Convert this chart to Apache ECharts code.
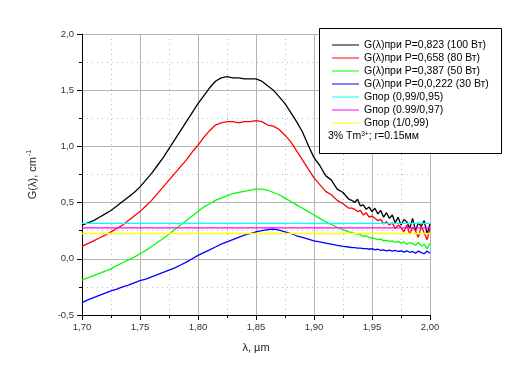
<!DOCTYPE html>
<html><head><meta charset="utf-8">
<script src="https://cdn.jsdelivr.net/npm/echarts@6/dist/echarts.min.js"></script>
<style>html,body{margin:0;padding:0;background:#fff}#c{width:527px;height:383px}</style>
</head><body><div id="c"></div>
<script>
const lambda = [1.700,1.705,1.710,1.715,1.720,1.725,1.730,1.735,1.740,1.745,1.750,1.755,1.760,1.765,1.770,1.775,1.780,1.785,1.790,1.795,1.800,1.805,1.810,1.815,1.820,1.825,1.830,1.835,1.840,1.845,1.850,1.855,1.860,1.865,1.870,1.875,1.880,1.885,1.890,1.895,1.900,1.905,1.910,1.915,1.920,1.925,1.930,
1.9325,1.935,1.9375,1.940,1.9425,1.945,1.9475,1.950,1.9525,1.955,1.9575,1.960,1.9625,1.965,1.9675,1.970,1.9725,1.975,1.9775,1.980,1.9825,1.985,1.9875,1.990,1.9925,1.995,1.9975,2.000];
const g100 = [0.30,0.32,0.34,0.37,0.40,0.43,0.47,0.51,0.55,0.59,0.64,0.70,0.76,0.83,0.90,0.98,1.06,1.14,1.22,1.30,1.38,1.45,1.52,1.58,1.61,1.62,1.61,1.61,1.60,1.60,1.60,1.58,1.54,1.50,1.44,1.38,1.30,1.22,1.13,1.01,0.90,0.83,0.74,0.70,0.62,0.59,0.53,
0.52,0.50,0.53,0.47,0.48,0.44,0.46,0.42,0.45,0.40,0.43,0.37,0.41,0.36,0.39,0.32,0.37,0.30,0.35,0.33,0.27,0.36,0.25,0.32,0.29,0.34,0.22,0.31];
const g80 = [0.11,0.135,0.16,0.185,0.21,0.24,0.27,0.30,0.34,0.38,0.42,0.47,0.52,0.58,0.64,0.70,0.76,0.82,0.88,0.95,1.01,1.08,1.14,1.19,1.21,1.22,1.22,1.21,1.22,1.22,1.23,1.22,1.19,1.18,1.15,1.10,1.04,0.96,0.88,0.80,0.72,0.66,0.60,0.57,0.52,0.49,0.45,
0.45,0.44,0.42,0.43,0.39,0.41,0.37,0.38,0.36,0.34,0.35,0.31,0.33,0.30,0.32,0.27,0.30,0.28,0.24,0.30,0.22,0.28,0.25,0.19,0.29,0.23,0.17,0.27];
const g50 = [-0.19,-0.17,-0.15,-0.13,-0.11,-0.09,-0.06,-0.035,-0.01,0.015,0.045,0.075,0.11,0.145,0.18,0.22,0.26,0.30,0.34,0.38,0.42,0.46,0.49,0.52,0.54,0.56,0.58,0.59,0.60,0.61,0.62,0.62,0.61,0.59,0.57,0.54,0.51,0.48,0.45,0.42,0.39,0.36,0.33,0.305,0.28,0.26,0.24,
0.235,0.225,0.22,0.215,0.20,0.205,0.19,0.185,0.18,0.17,0.175,0.16,0.165,0.155,0.16,0.145,0.155,0.14,0.15,0.13,0.145,0.135,0.12,0.145,0.115,0.13,0.09,0.14];
const g30 = [-0.39,-0.365,-0.345,-0.325,-0.305,-0.285,-0.27,-0.25,-0.235,-0.215,-0.195,-0.18,-0.16,-0.14,-0.12,-0.10,-0.08,-0.055,-0.03,0.00,0.03,0.055,0.08,0.105,0.13,0.15,0.17,0.19,0.21,0.225,0.24,0.25,0.26,0.265,0.255,0.24,0.225,0.205,0.19,0.175,0.16,0.15,0.14,0.13,0.12,0.11,0.105,
0.10,0.10,0.095,0.095,0.09,0.09,0.085,0.09,0.08,0.085,0.075,0.08,0.07,0.078,0.068,0.075,0.065,0.07,0.06,0.07,0.058,0.065,0.05,0.068,0.055,0.045,0.07,0.05];
const thresholds = [0.315, 0.275, 0.225];
const seriesNames = ['G(λ)при P=0,823 (100 Вт)','G(λ)при P=0,658 (80 Вт)','G(λ)при P=0,387 (50 Вт)','G(λ)при P=0,0,222 (30 Вт)','Gпор (0,99/0,95)','Gпор (0.99/0,97)','Gпор (1/0,99)'];
const colors = ['#000000','#ff0000','#00ff00','#0000ff','#00ffff','#ff00ff','#ffff00'];
const xTicks = {min:1.70, max:2.00, step:0.05};
const yTicks = {min:-0.5, max:2.0, step:0.5};

const curves = [g100, g80, g50, g30];
const series = [];
curves.forEach((arr,i)=>{
  series.push({name:seriesNames[i], type:'line', showSymbol:false, symbol:'none', animation:false,
    lineStyle:{width:1.3,color:colors[i]}, itemStyle:{color:colors[i]},
    data: lambda.map((x,k)=>[x,arr[k]])});
});
thresholds.forEach((v,j)=>{
  const i = 4+j;
  series.push({name:seriesNames[i], type:'line', showSymbol:false, symbol:'none', animation:false,
    lineStyle:{width:1.3,color:colors[i]}, itemStyle:{color:colors[i]},
    data: [[lambda[0],v],[lambda[lambda.length-1],v]]});
});

const font = 'Liberation Sans, Arial, sans-serif';
const chart = echarts.init(document.getElementById('c'), null, {renderer:'canvas'});
chart.setOption({
  animation:false,
  backgroundColor:'#fff',
  color: colors,
  grid:{left:82, right:97, top:34, bottom:68, containLabel:false},
  xAxis:{type:'value', min:xTicks.min, max:xTicks.max, interval:xTicks.step,
    name:'λ, µm', nameLocation:'middle', nameGap:27,
    nameTextStyle:{fontFamily:font, fontSize:11, color:'#222'},
    axisLine:{onZero:false, lineStyle:{color:'#000', width:1}},
    axisTick:{show:true, inside:false, length:5, lineStyle:{color:'#000'}},
    minorTick:{show:true, splitNumber:2, length:3, lineStyle:{color:'#000'}},
    splitLine:{show:true, lineStyle:{color:'#b4b4b4', width:1}},
    minorSplitLine:{show:true, lineStyle:{color:'#b8b8b8', width:1, type:[1,4]}},
    axisLabel:{fontFamily:font, fontSize:9.5, color:'#333', margin:7,
      formatter:v=>v.toFixed(2).replace('.',',')}
  },
  yAxis:{type:'value', min:yTicks.min, max:yTicks.max, interval:yTicks.step,
    name:'{a|G(λ), cm}{s|-1}', nameLocation:'middle', nameGap:43, nameRotate:90,
    nameTextStyle:{fontFamily:font, fontSize:11, color:'#222',
      rich:{a:{fontFamily:font, fontSize:11, color:'#222'}, s:{fontFamily:font, fontSize:7, color:'#222', verticalAlign:'top', padding:[0,0,6,1]}}},
    axisLine:{show:true, onZero:false, lineStyle:{color:'#000', width:1}},
    axisTick:{show:true, inside:false, length:5, lineStyle:{color:'#000'}},
    minorTick:{show:true, splitNumber:2, length:3, lineStyle:{color:'#000'}},
    splitLine:{show:true, lineStyle:{color:'#b4b4b4', width:1}},
    minorSplitLine:{show:true, lineStyle:{color:'#b8b8b8', width:1, type:[1,4]}},
    axisLabel:{fontFamily:font, fontSize:9.5, color:'#333', margin:8,
      formatter:v=>v.toFixed(1).replace('.',',')}
  },
  legend:{orient:'vertical', left:319, top:28, padding:[11,12,24,13], itemGap:1,
    itemWidth:27, itemHeight:8, z:10,
    icon:'path://M0,4 L27,4 L27,5 L0,5 Z',
    textStyle:{fontFamily:font, fontSize:10.5, color:'#000', lineHeight:12},
    data: seriesNames.map((n,i)=>({name:n, itemStyle:{color:colors[i]}}))
  },
  graphic:{elements:[
    {type:'rect', left:319, top:28, z:5, shape:{width:182, height:125}, style:{fill:'#fff', stroke:'#000', lineWidth:1}},
    {type:'text', left:328, top:131, z:12, style:{
      rich:{n:{fontFamily:font, fontSize:10.5, fill:'#000'}, s:{fontFamily:font, fontSize:6.5, fill:'#000', verticalAlign:'top'}},
      text:'{n|3% Tm}{s|3+}{n|; r=0.15мм}'}}
  ]},
  series: series
});
</script></body></html>
